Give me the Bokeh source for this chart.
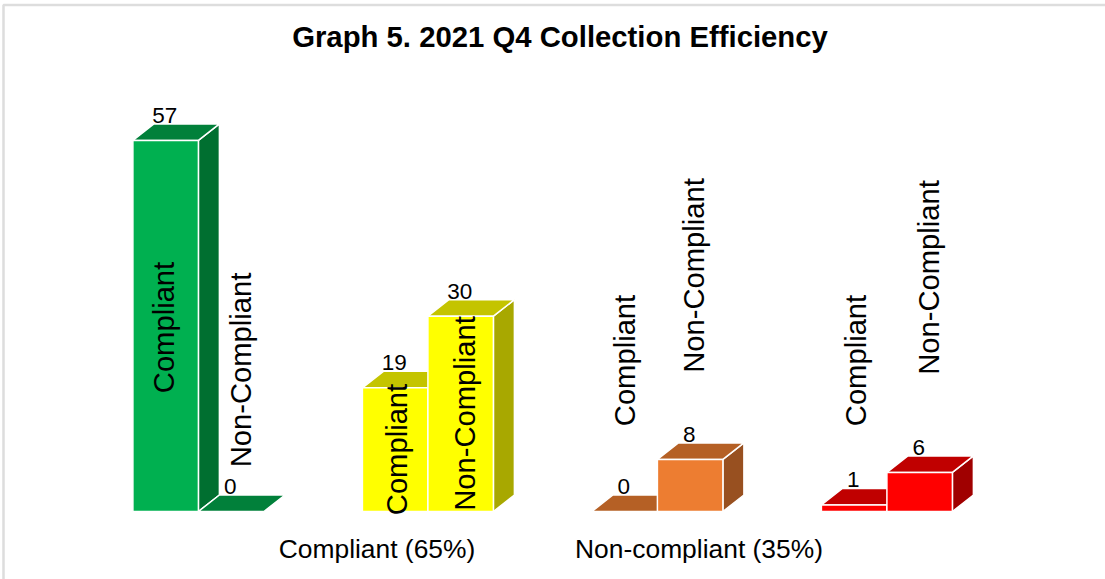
from math import pi
from bokeh.core.properties import value
from bokeh.embed import file_html
from bokeh.models import ColumnDataSource, Range1d
from bokeh.plotting import figure
from bokeh.resources import INLINE

title = "Graph 5. 2021 Q4 Collection Efficiency"
series_names = ["Compliant", "Non-Compliant"]
groups = ["Green", "Yellow", "Orange", "Red"]
compliant = [57, 19, 0, 1]
non_compliant = [0, 30, 8, 6]
category_labels = ["Compliant (65%)", "Non-compliant (35%)"]

front_colors = ["#00B050", "#FFFF00", "#ED7D31", "#FF0000"]
top_colors = ["#01803A", "#C4C400", "#B56025", "#C00000"]
side_colors = ["#006F30", "#A8A800", "#985020", "#A00000"]

# layout, in page pixels
W, H = 1105, 579
X0, PITCH, BAR = 132.4, 229.5, 65.5
BASE, UNIT = 511.0, 6.51
DX, DY = 21.0, 16.5
LABEL_RAISE = 8.5


def gx(px):
    return (px - X0) / PITCH


def gy(px):
    return (BASE - px) / UNIT


p = figure(width=W, height=H, output_backend="svg", toolbar_location=None,
           x_range=Range1d(gx(0), gx(W)), y_range=Range1d(gy(H), gy(0)),
           min_border=0, margin=0, background_fill_color="white",
           border_fill_color="white", outline_line_color=None)
p.axis.visible = False
p.grid.visible = False

# faint frame of the picture
p.line([gx(3), gx(3), gx(W)], [gy(H), gy(4.5), gy(4.5)], line_color="#DDDDDD", line_width=2.5)

bw, ddx, ddy = BAR / PITCH, DX / PITCH, DY / UNIT
xs, ys, fills = [], [], []
labels_x, labels_y, labels_t = [], [], []
for i in range(len(groups)):
    for s, vals in enumerate([compliant, non_compliant]):
        v = vals[i]
        l = i + s * bw
        r = l + bw
        if v > 0:
            xs.append([r, r + ddx, r + ddx, r])
            ys.append([0, ddy, v + ddy, v])
            fills.append(side_colors[i])
        xs.append([l, r, r + ddx, l + ddx])
        ys.append([v, v, v + ddy, v + ddy])
        fills.append(top_colors[i])
        if v > 0:
            xs.append([l, r, r, l])
            ys.append([0, 0, v, v])
            fills.append(front_colors[i])
        labels_x.append((l + r) / 2 - 1.0 / PITCH)
        labels_y.append(v + ddy + LABEL_RAISE / UNIT)
        labels_t.append(str(v))

p.patches(xs="xs", ys="ys", fill_color="fill", line_color="#FFFFFF", line_width=1.5,
          source=ColumnDataSource(dict(xs=xs, ys=ys, fill=fills)))

font = value("Liberation Sans")
p.text(labels_x, labels_y, text=labels_t, text_font=font, text_font_size="22.5px",
       text_align="center", text_baseline="alphabetic", text_color="#000000")

# rotated series names, centres in page pixels
name_px = [(163.5, 327), (240, 369.5), (396, 449), (464, 413),
           (624.5, 360), (693, 275), (855, 360), (928.5, 277)]
p.text([gx(a) for a, _ in name_px], [gy(b) for _, b in name_px],
       text=[series_names[k % 2] for k in range(8)], angle=pi / 2, text_font=font,
       text_font_size="29.2px", text_align="center", text_baseline="middle", text_color="#000000")

p.text([gx(376.5), gx(698.5)], [gy(548.5), gy(548.5)], text=category_labels, text_font=font,
       text_font_size="26.4px", text_align="center", text_baseline="middle", text_color="#000000")

p.text([gx(559.5)], [gy(36)], text=[title], text_font=font, text_font_size="29.3px",
       text_font_style="bold", text_align="center", text_baseline="middle", text_color="#000000")

open("out.html", "w").write(file_html(p, INLINE))
